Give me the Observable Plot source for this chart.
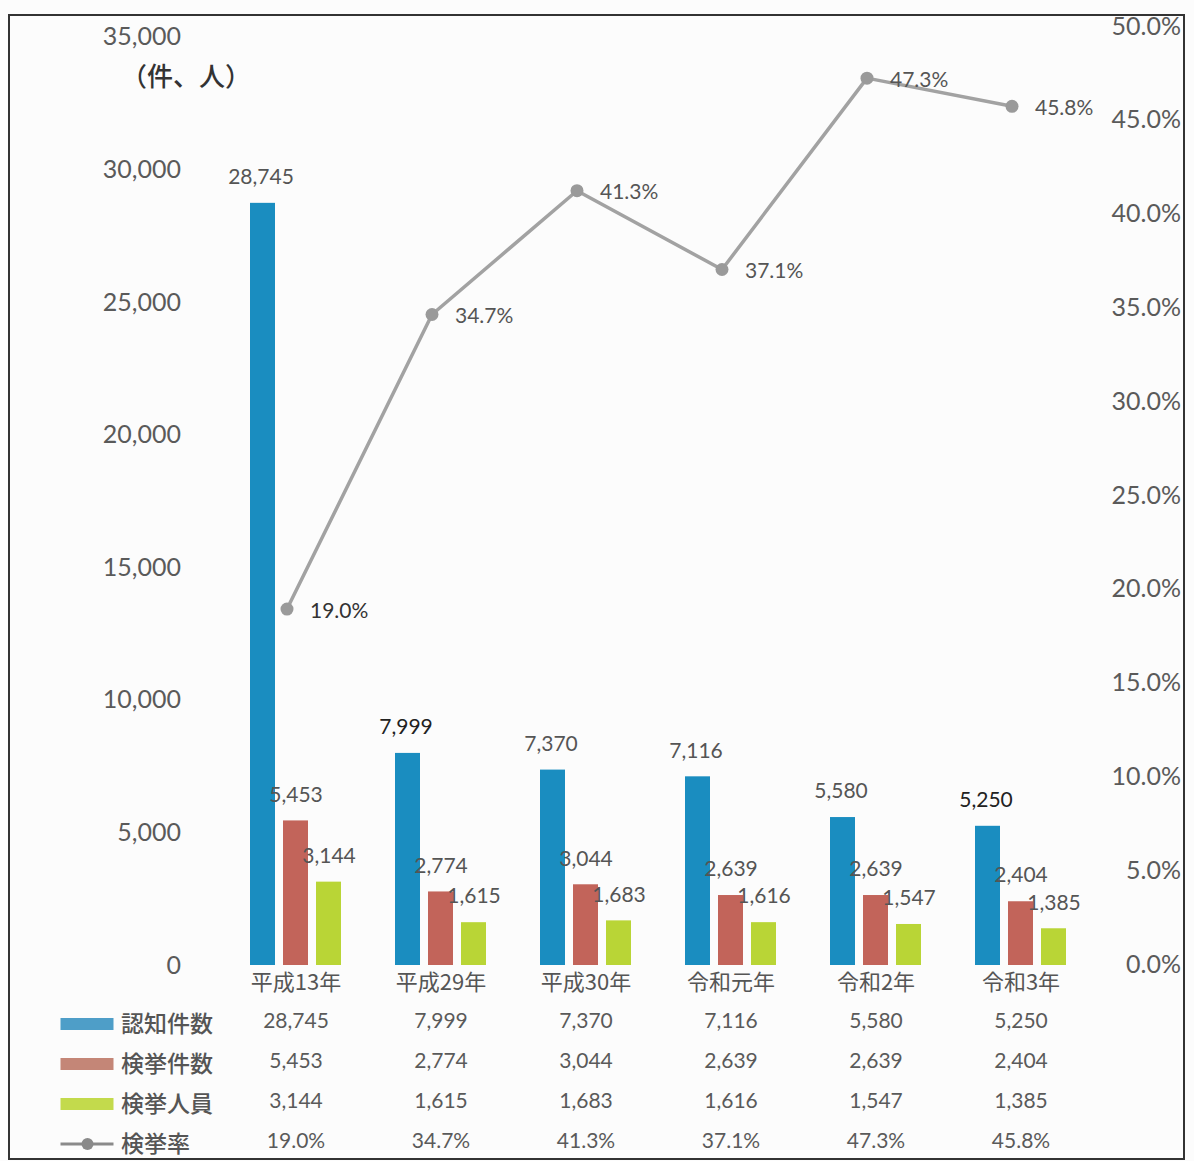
<!DOCTYPE html>
<html><head><meta charset="utf-8">
<script src="https://cdn.jsdelivr.net/npm/d3@7"></script>
<script src="https://cdn.jsdelivr.net/npm/@observablehq/plot@0.6"></script>
<style>
body{margin:0;background:#fcfcfc;}
#wrap{position:relative;width:1194px;height:1161px;overflow:hidden;}
#chart{position:absolute;left:0;top:0;}
#border{position:absolute;left:8px;top:14px;width:1173px;height:1142px;border:2px solid #333;pointer-events:none;}
</style></head><body><div id="wrap"><div id="chart"></div><div id="border"></div></div>
<script>
// ---- data ----
const categories = ["平成13年","平成29年","平成30年","令和元年","令和2年","令和3年"];
const ninchi = [28745, 7999, 7370, 7116, 5580, 5250];        // 認知件数
const kenkyoKensu = [5453, 2774, 3044, 2639, 2639, 2404];     // 検挙件数
const kenkyoJinin = [3144, 1615, 1683, 1616, 1547, 1385];     // 検挙人員
const kenkyoRate = [19.0, 34.7, 41.3, 37.1, 47.3, 45.8];      // 検挙率 (%)
const seriesNames = ["認知件数","検挙件数","検挙人員","検挙率"];
const leftTicks = [0, 5000, 10000, 15000, 20000, 25000, 30000, 35000];
const rightTicks = [0, 5, 10, 15, 20, 25, 30, 35, 40, 45, 50];
const unitLabel = "（件、人）";

// ---- styles ----
const C_BLUE = "#1a8dc0", C_RED = "#c2645a", C_GREEN = "#b9d536", C_LINE = "#a2a2a2", C_DOT = "#9a9a9a";
const LEG = ["#4e9ec8", "#c48677", "#c3da4c", "#8a8a8a"];
const NUM = "Lato, 'Noto Sans CJK JP', sans-serif";
const JP = "'Noto Sans CJK JP', sans-serif";
const F = 35377 / 50; // percent -> left-axis units (right axis 50% at top of frame)

const data = categories.map((c, i) => ({
  cat: c, ninchi: ninchi[i], kensu: kenkyoKensu[i], jinin: kenkyoJinin[i], rate: kenkyoRate[i]
}));
const fmt = d3.format(",");

const tableRows = [
  {key: "ninchi", f: d => fmt(d.ninchi)},
  {key: "kensu", f: d => fmt(d.kensu)},
  {key: "jinin", f: d => fmt(d.jinin)},
  {key: "rate", f: d => d.rate.toFixed(1) + "%"}
];
const rowDy = [56, 96, 136, 176];

function legendSwatches(index, scales, values, dimensions) {
  const dims = dimensions || {marginLeft: 222.5, height: 1161, marginBottom: 196};
  const g = d3.create("svg:g");
  const x0 = dims.marginLeft - 162;
  const bottom = dims.height - dims.marginBottom;
  seriesNames.forEach((n, i) => {
    const yc = bottom + rowDy[i] + 3;
    if (i < 3) {
      g.append("rect").attr("x", x0).attr("y", yc - 6).attr("width", 53).attr("height", 12).attr("fill", LEG[i]);
    } else {
      g.append("line").attr("x1", x0).attr("x2", x0 + 53).attr("y1", yc).attr("y2", yc)
        .attr("stroke", LEG[3]).attr("stroke-width", 3);
      g.append("circle").attr("cx", x0 + 27).attr("cy", yc).attr("r", 6).attr("fill", LEG[3]);
    }
  });
  return g.node();
}

const marks = [
  Plot.axisY({ticks: leftTicks, tickSize: 0, tickPadding: 42, tickFormat: d => fmt(d),
    fontSize: 25, fontFamily: NUM, color: "#5a5a5a"}),
  Plot.axisY({anchor: "right", ticks: rightTicks.map(p => p * F), tickSize: 0, tickPadding: 88,
    textAnchor: "end", dy: -1, tickFormat: v => (v / F).toFixed(1) + "%",
    fontSize: 25, fontFamily: NUM, color: "#5a5a5a"}),
  Plot.barY(data, {x: "cat", y: "ninchi", fill: C_BLUE, insetLeft: 60, insetRight: 60, dx: -33}),
  Plot.barY(data, {x: "cat", y: "kensu", fill: C_RED, insetLeft: 60, insetRight: 60}),
  Plot.barY(data, {x: "cat", y: "jinin", fill: C_GREEN, insetLeft: 60, insetRight: 60, dx: 33}),
  Plot.text(data, {x: "cat", y: "ninchi", text: d => fmt(d.ninchi), dx: -35, dy: -26,
    fontSize: 21, fontFamily: NUM, fill: d => (d.ninchi === 7999 || d.ninchi === 5250) ? "#222" : "#555"}),
  Plot.text(data, {x: "cat", y: "kensu", text: d => fmt(d.kensu), dy: -26,
    fontSize: 21, fontFamily: NUM, fill: "#555"}),
  Plot.text(data, {x: "cat", y: "jinin", text: d => fmt(d.jinin), dx: 33, dy: -26,
    fontSize: 21, fontFamily: NUM, fill: "#555"}),
  Plot.line(data, {x: "cat", y: d => d.rate * F, stroke: C_LINE, strokeWidth: 3.5, dx: -9}),
  Plot.dot(data, {x: "cat", y: d => d.rate * F, r: 6.5, fill: C_DOT, dx: -9}),
  Plot.text(data, {x: "cat", y: d => d.rate * F, text: d => d.rate.toFixed(1) + "%", dx: 14, dy: 2,
    textAnchor: "start", fontSize: 21, fontFamily: NUM, fill: d => d.rate === 19 ? "#333" : "#555"}),
  Plot.text([unitLabel], {frameAnchor: "top-left", text: d => d, dx: -37, dy: 50,
    textAnchor: "middle", lineAnchor: "middle",
    fontSize: 26, fontFamily: JP, fontWeight: 500, fill: "#333"}),
  Plot.text(data, {x: "cat", frameAnchor: "bottom", text: "cat", dy: 17, lineAnchor: "middle",
    fontSize: 22, fontFamily: JP, fill: "#555"}),
  ...tableRows.map((r, i) => Plot.text(data, {x: "cat", frameAnchor: "bottom", text: r.f, dy: rowDy[i],
    lineAnchor: "middle", fontSize: 21, fontFamily: NUM, fill: "#5a5a5a"})),
  ...seriesNames.map((n, i) => Plot.text([n], {frameAnchor: "bottom-left", text: d => d,
    dx: -102, dy: rowDy[i] + 3, textAnchor: "start", lineAnchor: "middle",
    fontSize: 23, fontFamily: JP, fontWeight: 500, fill: "#555"})),
  legendSwatches
];

const chart = Plot.plot({
  width: 1194, height: 1161,
  marginLeft: 222.5, marginRight: 101.5, marginTop: 27, marginBottom: 196,
  style: {background: "transparent", overflow: "visible"},
  x: {domain: categories, padding: 0, axis: null},
  y: {domain: [0, 35377], axis: null},
  marks
});
document.getElementById("chart").appendChild(chart);
</script>
</body></html>
